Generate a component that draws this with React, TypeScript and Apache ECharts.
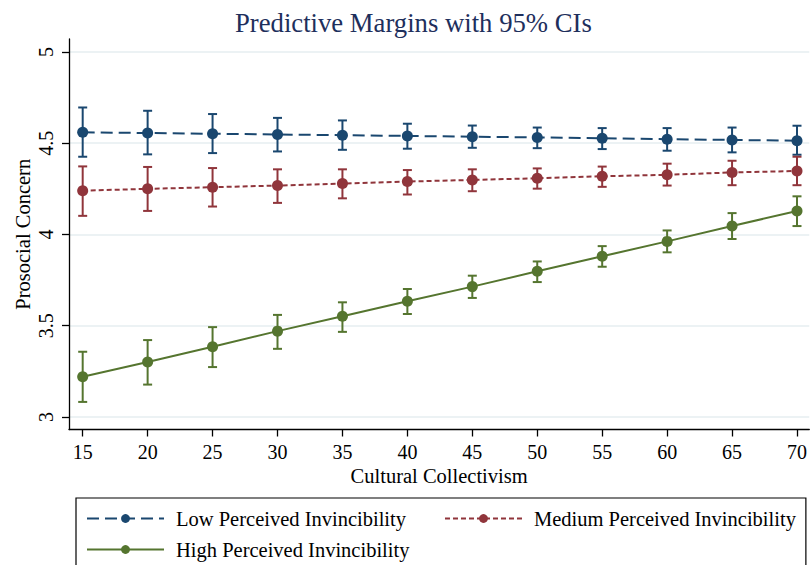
import React, { useEffect, useRef } from "react";
import * as echarts from "echarts";

const xValues = [15, 20, 25, 30, 35, 40, 45, 50, 55, 60, 65, 70];
const yTicks = [3, 3.5, 4, 4.5, 5];

const lowMean = [4.56, 4.556, 4.552, 4.548, 4.544, 4.54, 4.536, 4.532, 4.527, 4.522, 4.518, 4.514];
const lowLo = [4.426, 4.439, 4.446, 4.455, 4.464, 4.47, 4.475, 4.473, 4.468, 4.459, 4.45, 4.437];
const lowHi = [4.696, 4.678, 4.66, 4.639, 4.625, 4.607, 4.597, 4.586, 4.583, 4.583, 4.586, 4.596];

const medMean = [4.24, 4.25, 4.259, 4.268, 4.279, 4.29, 4.299, 4.308, 4.319, 4.327, 4.34, 4.348];
const medLo = [4.102, 4.129, 4.153, 4.173, 4.198, 4.219, 4.237, 4.251, 4.261, 4.268, 4.27, 4.27];
const medHi = [4.373, 4.37, 4.364, 4.357, 4.357, 4.353, 4.357, 4.362, 4.372, 4.388, 4.404, 4.426];

const highMean = [3.22, 3.301, 3.384, 3.47, 3.552, 3.634, 3.714, 3.798, 3.88, 3.962, 4.046, 4.129];
const highLo = [3.082, 3.177, 3.273, 3.373, 3.466, 3.564, 3.652, 3.739, 3.823, 3.902, 3.975, 4.046];
const highHi = [3.357, 3.421, 3.492, 3.559, 3.628, 3.701, 3.774, 3.852, 3.936, 4.022, 4.117, 4.209];

const seriesNames = [
  "Low Perceived Invincibility",
  "Medium Perceived Invincibility",
  "High Perceived Invincibility",
];

const FONT = "'Liberation Serif', 'Times New Roman', serif";
const BLUE = "#1a476f";
const RED = "#90353b";
const GREEN = "#55752f";

function ciSeries(name: string, color: string, lo: number[], hi: number[]) {
  return {
    type: "custom",
    name,
    z: 2,
    data: xValues.map((x, i) => [x, lo[i], hi[i]]),
    encode: { x: 0, y: [1, 2] },
    renderItem: (_params: any, api: any) => {
      const x = api.value(0);
      const pLo = api.coord([x, api.value(1)]);
      const pHi = api.coord([x, api.value(2)]);
      const half = 4.5;
      const style = { stroke: color, lineWidth: 2, fill: "none" };
      return {
        type: "group",
        children: [
          { type: "line", shape: { x1: pLo[0], y1: pLo[1], x2: pHi[0], y2: pHi[1] }, style },
          { type: "line", shape: { x1: pLo[0] - half, y1: pLo[1], x2: pLo[0] + half, y2: pLo[1] }, style },
          { type: "line", shape: { x1: pHi[0] - half, y1: pHi[1], x2: pHi[0] + half, y2: pHi[1] }, style },
        ],
      };
    },
  };
}

function lineSeries(name: string, color: string, mean: number[], dash: any) {
  return {
    type: "line",
    name,
    z: 3,
    data: xValues.map((x, i) => [x, mean[i]]),
    symbol: "circle",
    symbolSize: 11,
    itemStyle: { color },
    lineStyle: { color, width: 2, type: dash },
  };
}

const legendText = {
  fontFamily: FONT,
  fontSize: 20.5,
  color: "#000",
  padding: [0, 0, 0, 7],
};

export default function App() {
  const ref = useRef<HTMLDivElement>(null);
  useEffect(() => {
    document.body.style.margin = "0";
    const chart = echarts.init(ref.current!, undefined, { renderer: "svg" });
    chart.setOption({
      animation: false,
      backgroundColor: "#ffffff",
      title: {
        text: "Predictive Margins with 95% CIs",
        left: 230,
        top: 4,
        textStyle: { fontFamily: FONT, fontSize: 26.7, fontWeight: "normal", color: "#1e2f5c" },
      },
      grid: { left: 69, right: 0, top: 39, bottom: 135.5 },
      xAxis: {
        type: "value",
        min: 13.946,
        max: 70.946,
        name: "Cultural Collectivism",
        nameLocation: "middle",
        nameGap: 36,
        nameMoveOverlap: false,
        nameTextStyle: { fontFamily: FONT, fontSize: 20.5, color: "#000" },
        axisLine: { show: true, lineStyle: { color: "#000", width: 1.3 } },
        axisTick: { show: true, length: 7, customValues: xValues, lineStyle: { color: "#000", width: 1.3 } },
        axisLabel: { customValues: xValues, margin: 12, fontFamily: FONT, fontSize: 20, color: "#000", showMinLabel: true, showMaxLabel: true },
        splitLine: { show: false },
      },
      yAxis: {
        type: "value",
        min: 2.9308,
        max: 5.0714,
        name: "Prosocial Concern",
        nameLocation: "middle",
        nameGap: 36,
        nameMoveOverlap: false,
        nameTextStyle: { fontFamily: FONT, fontSize: 20.5, color: "#000" },
        axisLine: { show: true, lineStyle: { color: "#000", width: 1.3 } },
        axisTick: { show: true, length: 7, customValues: yTicks, lineStyle: { color: "#000", width: 1.3 } },
        axisLabel: { customValues: yTicks, rotate: 90, margin: 13, fontFamily: FONT, fontSize: 20, color: "#000" },
        splitLine: { show: true, lineStyle: { color: "#e6eef1", width: 1.5 } },
      },
      legend: [
        {
          data: [seriesNames[0], seriesNames[1]],
          orient: "horizontal",
          left: 76,
          top: 498,
          padding: [10, 10, 60, 10],
          itemWidth: 77,
          itemHeight: 11,
          itemGap: 38,
          borderColor: "#000",
          borderWidth: 1.2,
          selectedMode: false,
          textStyle: legendText,
        },
        {
          data: [seriesNames[2]],
          left: 86,
          top: 539,
          padding: 0,
          itemWidth: 77,
          itemHeight: 11,
          selectedMode: false,
          textStyle: legendText,
        },
      ],
      series: [
        ciSeries("ciLow", BLUE, lowLo, lowHi),
        ciSeries("ciMed", RED, medLo, medHi),
        ciSeries("ciHigh", GREEN, highLo, highHi),
        lineSeries(seriesNames[0], BLUE, lowMean, [12, 6]),
        lineSeries(seriesNames[1], RED, medMean, [5, 3]),
        lineSeries(seriesNames[2], GREEN, highMean, "solid"),
      ],
    });
    return () => chart.dispose();
  }, []);
  return <div ref={ref} style={{ width: 810, height: 565 }} />;
}
